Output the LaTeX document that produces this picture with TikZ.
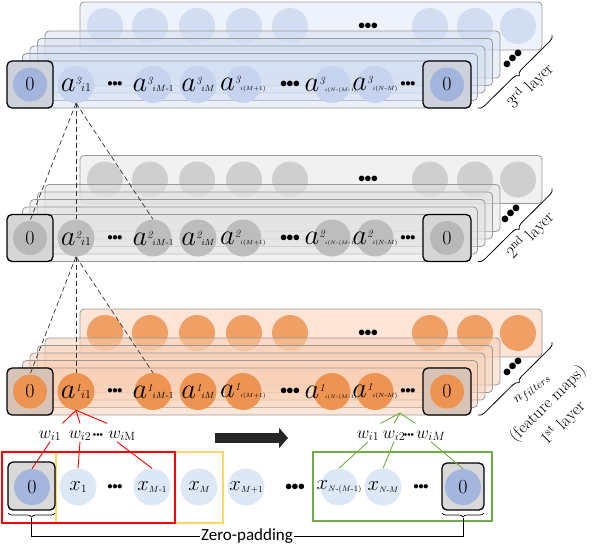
\documentclass[tikz,border=0pt]{standalone}
\usepackage{graphicx}
\usepackage{fontspec}
\newfontfamily\zpfont{Carlito}
\usetikzlibrary{decorations.pathreplacing,arrows.meta}
\definecolor{tBack}{HTML}{EEF2FA}\definecolor{tBC}{HTML}{D3DDF2}\definecolor{tStack}{HTML}{D5DFF3}
\definecolor{tFC}{HTML}{C5D3EE}\definecolor{tBox}{HTML}{CDD1DB}\definecolor{tZero}{HTML}{A3B5DC}
\definecolor{sBack}{HTML}{F1F1F1}\definecolor{sBC}{HTML}{CFCFCF}\definecolor{sStack}{HTML}{E3E3E3}
\definecolor{sFC}{HTML}{BDBDBD}\definecolor{sBox}{HTML}{D6D6D6}\definecolor{sZero}{HTML}{B8B8B8}
\definecolor{oBack}{HTML}{FCE4D6}\definecolor{oBC}{HTML}{F0A064}\definecolor{oStack}{HTML}{F8D0B6}
\definecolor{oFC}{HTML}{EE9452}\definecolor{oBox}{HTML}{D8C4B6}\definecolor{oZero}{HTML}{EE9452}
\definecolor{inC}{HTML}{DDE8F6}\definecolor{inZero}{HTML}{A4B6DD}\definecolor{inBox}{HTML}{D9D9D9}
\definecolor{yel}{HTML}{FFD966}\definecolor{grn}{HTML}{70AD47}\definecolor{arrowc}{HTML}{262626}
\newcommand\bul{$\mathord{\bullet}\mkern-1mu\mathord{\bullet}\mkern-1mu\mathord{\bullet}$}
\newcommand\actv[3]{\makebox[0pt]{\scalebox{1.15}{\fontsize{24.88}{25}\selectfont$a$}\raisebox{7pt}{\fontsize{11}{11}\selectfont$\mathit{#1}$}{\fontsize{#3}{#3}\selectfont#2}}}
\newcommand\xlab[2]{\makebox[0pt]{{\fontsize{21}{21}\selectfont$x$}\raisebox{-2pt}{\fontsize{#2}{#2}\selectfont#1}}}
\tikzset{
 stackrect/.style={draw=black!40, line width=0.8pt, rounded corners=4pt},
 zbox/.style={draw=black, line width=1.3pt, rounded corners=5pt, minimum width=46pt, minimum height=47pt, inner sep=0pt},
 zc/.style={circle, inner sep=0pt, minimum size=34pt, font=\fontsize{20}{20}\selectfont},
 fc/.style={circle, inner sep=0pt, minimum size=37pt},
 sdots/.style={inner sep=0pt, font=\fontsize{11}{11}\selectfont},
 bdots/.style={inner sep=0pt, font=\fontsize{15}{15}\selectfont},
 wdots/.style={inner sep=0pt, font=\fontsize{6}{6}\selectfont},
 ddots/.style={inner sep=0pt, rotate=45, font=\fontsize{16}{16}\selectfont},
 dashl/.style={black!80, line width=0.7pt, dash pattern=on 5pt off 3pt},
 layerlab/.style={rotate=45, font=\fontsize{17}{19}\selectfont, inner sep=0pt},
 brc/.style={decorate, decoration={brace, mirror, amplitude=6pt}, line width=0.8pt},
 brcs/.style={decorate, decoration={brace, mirror, amplitude=4pt}, line width=0.7pt},
 wlab/.style={inner sep=1pt, anchor=base, font=\fontsize{17}{17}\selectfont},
 redl/.style={red, line width=0.9pt},
 grnl/.style={grn, line width=0.9pt},
}
\newcommand\drawlayer[8]{%
\begin{scope}[shift={(0,#1)}]
\draw[stackrect, fill=#2] (80,2) rectangle (542,50);
\foreach \cx in {105,150,197,244,290,430,475,518} {\fill[#3] (\cx,26) circle (18);}
\node[bdots] (bd#8) at (368,26) {\bul};
\foreach \k in {4,3,2,1} {\draw[stackrect, fill=#4, fill opacity=0.5] ({15+7.5*\k},{61-7.5*\k}) rectangle ({470+7.5*\k},{108-7.5*\k});}
\draw[stackrect, fill=#4, fill opacity=0.5] (15,61) rectangle (470,108);
\node[zbox, fill=#6] (zb#8L) at (30,84.5) {};
\node[zc, fill=#7] (z#8L) at (30,84.5) {0};
\node[fc, fill=#5] (a#8i1) at (76,84.5) {\actv{#8}{$i1$}{12}};
\node[sdots] (d#8a) at (115,84.5) {\bul};
\node[fc, fill=#5] (a#8iMm) at (153,84.5) {\actv{#8}{$iM$-$1$}{9}};
\node[fc, fill=#5] (a#8iM) at (198,84.5) {\actv{#8}{$iM$}{9}};
\node[fc, fill=#5] (a#8iMp) at (243,84.5) {\actv{#8}{$i(M{+}1)$}{6}};
\node[bdots] (d#8b) at (290,84.5) {\bul};
\node[fc, fill=#5] (a#8iNMm) at (332,84.5) {\actv{#8}{$i(N$-$(M$-$1))$}{5}};
\node[fc, fill=#5] (a#8iNM) at (375,84.5) {\actv{#8}{$i(N$-$M)$}{6}};
\node[sdots] (d#8c) at (408,84.5) {\bul};
\node[zbox, fill=#6, minimum width=48pt] (zb#8R) at (447,84.5) {};
\node[zc, fill=#7] (z#8R) at (447,84.5) {0};
\end{scope}}
\begin{document}
\begin{tikzpicture}[x=1pt,y=-1pt]
\useasboundingbox (0,0) rectangle (594,546);
\drawlayer{0}{tBack}{tBC}{tStack}{tFC}{tBox}{tZero}{3}
\drawlayer{153.5}{sBack}{sBC}{sStack}{sFC}{sBox}{sZero}{2}
\drawlayer{307}{oBack}{oBC}{oStack}{oFC}{oBox}{oZero}{1}
% braces and labels of layers
\coordinate (br3s) at (478,108); \coordinate (br3e) at (552,35);
\coordinate (br2s) at (478,261.5); \coordinate (br2e) at (552,188.5);
\coordinate (br1s) at (478,415); \coordinate (br1e) at (552,342);
\draw[brc] (br3s) -- (br3e);
\draw[brc] (br2s) -- (br2e);
\draw[brc] (br1s) -- (br1e);
\node[ddots] (dd3) at (513,59) {\bul};
\node[ddots] (dd2) at (511,214) {\bul};
\node[ddots] (dd1) at (513,367) {\bul};
\node[layerlab] (lab3) at (530,86) {3\textsuperscript{rd} layer};
\node[layerlab] (lab2) at (530,235) {2\textsuperscript{nd} layer};
\node[layerlab, rotate=-7, font=\fontsize{15}{15}\selectfont] (labn) at (533,390) {$n_{filters}$};
\node[layerlab] (labf) at (548,404) {(feature maps)};
\node[layerlab] (lab1) at (563,423) {1\textsuperscript{st} layer};
% dashed connections
\draw[dashl] (a3i1.south) -- (z2L.north);
\draw[dashl] (a3i1.south) -- (a2i1.north);
\draw[dashl] (a3i1.south) -- (a2iMm.north);
\draw[dashl] (a2i1.south) -- (z1L.north);
\draw[dashl] (a2i1.south) -- (a1i1.north);
\draw[dashl] (a2i1.south) -- (a1iMm.north);
% input row
\draw[yel, line width=1.5pt] (56,452) rectangle (223,523);
\draw[red, line width=1.5pt] (2,452) rectangle (175,523);
\draw[grn, line width=1.5pt] (313,452) rectangle (492,521);
\node[zbox, fill=inBox, minimum width=47pt, minimum height=48pt] (zbIL) at (31.5,486) {};
\node[zc, fill=inZero, minimum size=36pt] (zIL) at (32,487) {0};
\node[fc, fill=inC] (x1) at (78,487) {\xlab{$1$}{11}};
\node[sdots] (xd1) at (115,487) {\bul};
\node[fc, fill=inC] (xMm) at (152,487) {\xlab{$M$-$1$}{9}};
\node[fc, fill=inC] (xM) at (199,487) {\xlab{$M$}{9}};
\node[fc, fill=inC] (xMp) at (246,487) {\xlab{$M{+}1$}{9}};
\node[bdots] (xd2) at (295,487) {\bul};
\node[fc, fill=inC] (xNMm) at (339,487) {\xlab{$N$-$(M$-$1)$}{8}};
\node[fc, fill=inC] (xNM) at (383,487) {\xlab{$N$-$M$}{8}};
\node[sdots] (xd3) at (421,487) {\bul};
\node[zbox, fill=inBox, minimum width=42pt, minimum height=47pt] (zbIR) at (463,486.5) {};
\node[zc, fill=inZero, minimum size=36pt] (zIR) at (463,487) {0};
% weights red
\node[wlab] (rwA) at (50,438) {$w_{i1}$};
\node[wlab] (rwB) at (80,438) {$w_{i2}$};
\node[wdots] (rwD) at (98,435) {\bul};
\node[wlab] (rwC) at (122,438) {$w_{i\mathrm{M}}$};
\draw[redl] (a1i1.south) -- ([yshift=6pt]rwA.north east);
\draw[redl] (a1i1.south) -- ([yshift=6pt]rwB.north);
\draw[redl] (a1i1.south) -- ([yshift=6pt]rwC.north west);
\draw[redl] (rwA.south) -- (zIL.north);
\draw[redl] (rwB.south) -- (x1.north);
\draw[redl] ([xshift=-5pt]rwC.south) -- (xMm.north);
% weights green
\coordinate (gO) at (400,413);
\node[wlab] (gwA) at (368,438) {$w_{i1}$};
\node[wlab] (gwB) at (394,438) {$w_{i2}$};
\node[wdots] (gwD) at (409,435) {\bul};
\node[wlab] (gwC) at (431,438) {$w_{iM}$};
\draw[grnl] (gO) -- ([yshift=6pt]gwA.north east);
\draw[grnl] (gO) -- ([yshift=6pt]gwB.north);
\draw[grnl] (gO) -- ([yshift=6pt]gwC.north west);
\draw[grnl] (gwA.south) -- (xNMm.north);
\draw[grnl] (gwB.south) -- (xNM.north);
\draw[grnl] (gwC.south) -- (zIR.north);
% big arrow
\coordinate (arS) at (215,438); \coordinate (arE) at (288,438);
\draw[line width=10pt, draw=arrowc, -{Triangle[length=9pt,width=20pt]}] (arS) -- (arE);
% zero padding
\coordinate (bl1) at (8,513); \coordinate (bl2) at (55,513);
\coordinate (bl3) at (442,513); \coordinate (bl4) at (484,513);
\draw[brcs] (bl1) -- (bl2);
\draw[brcs] (bl3) -- (bl4);
\coordinate (bt1) at (31.5,518); \coordinate (bt2) at (463,518);
\node[font=\zpfont\fontsize{17}{17}\selectfont, inner sep=1pt] (zp) at (247,536) {Zero-padding};
\draw[line width=0.8pt] (bt1) |- (zp.west);
\draw[line width=0.8pt] (zp.east) -| (bt2);
\end{tikzpicture}
\end{document}
